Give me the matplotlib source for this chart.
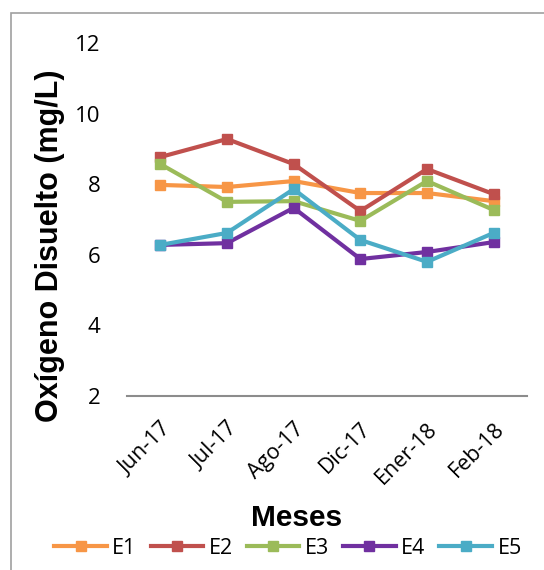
import matplotlib

matplotlib.use("Agg")
import matplotlib.pyplot as plt
from matplotlib.patches import Rectangle

months = ["Jun-17", "Jul-17", "Ago-17", "Dic-17", "Ener-18", "Feb-18"]
e1 = [7.98, 7.92, 8.09, 7.75, 7.75, 7.52]
e2 = [8.77, 9.28, 8.57, 7.24, 8.43, 7.72]
e3 = [8.57, 7.50, 7.52, 6.96, 8.09, 7.27]
e4 = [6.28, 6.33, 7.33, 5.88, 6.08, 6.36]
e5 = [6.28, 6.62, 7.86, 6.42, 5.80, 6.62]
series = {"E1": e1, "E2": e2, "E3": e3, "E4": e4, "E5": e5}
colors = {"E1": "#F79646", "E2": "#C0504D", "E3": "#9BBB59", "E4": "#7030A0", "E5": "#4BACC6"}

plt.rcParams["font.family"] = ["Open Sans", "DejaVu Sans"]

fig = plt.figure(figsize=(5.44, 5.70), dpi=100, facecolor="white")
ax = fig.add_axes([127 / 544, 1 - 396 / 570, 400 / 544, 353 / 570])

x = list(range(len(months)))
for name, vals in series.items():
    ax.plot(x, vals, "-s", color=colors[name], lw=3, ms=6.5, label=name)

ax.set_xlim(-0.5, len(months) - 0.5)
ax.set_ylim(2, 12)
ax.set_yticks([2, 4, 6, 8, 10, 12])
ax.set_xticks(x)
ax.set_xticklabels(months, rotation=45, ha="right", rotation_mode="anchor")
ax.tick_params(axis="y", length=0, labelsize=16, pad=19)
ax.tick_params(axis="x", length=0, labelsize=15.5, pad=16)
for side in ("top", "right", "left"):
    ax.spines[side].set_visible(False)
ax.spines["bottom"].set_color("#8c8c8c")
ax.spines["bottom"].set_linewidth(1.5)

fig.text(50 / 544, 1 - 246 / 570, "Oxígeno Disuelto (mg/L)", family="Liberation Sans",
         fontweight="bold", fontsize=22, rotation=90, ha="center", va="center")
fig.text(297 / 544, 1 - 518 / 570, "Meses", family="Liberation Sans", fontweight="bold",
         fontsize=21.5, ha="center", va="center")

fig.legend(loc="center", bbox_to_anchor=(288 / 544, 1 - 548 / 570), ncol=5, frameon=False,
           fontsize=15.5, handlelength=2.45, handletextpad=0.25, columnspacing=0.65,
           borderaxespad=0, borderpad=0)

fig.patches.append(Rectangle((11 / 544, -0.05), 1.2, (570 - 13) / 570 + 0.05,
                             transform=fig.transFigure, fill=False,
                             edgecolor="#a0a0a0", lw=1.2))

fig.savefig("out.png", dpi=100, facecolor="white")
